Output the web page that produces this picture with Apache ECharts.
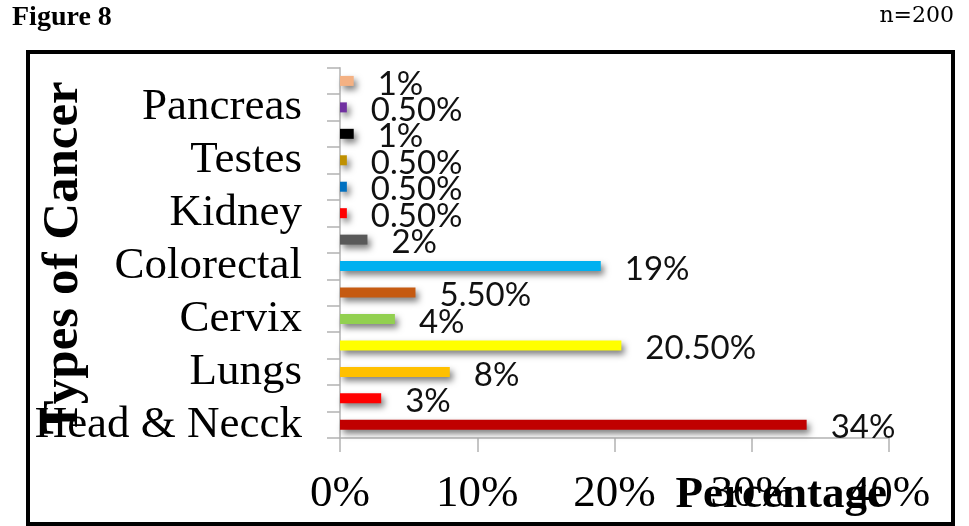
<!DOCTYPE html>
<html>
<head>
<meta charset="utf-8">
<style>
  html, body { margin: 0; padding: 0; background: #ffffff; }
  #chart { width: 969px; height: 526px; }
</style>
<script src="https://cdn.jsdelivr.net/npm/echarts@6/dist/echarts.min.js"></script>
</head>
<body>
<div id="chart"></div>
<script>
// Cancer types, bottom row first; unnamed rows carry no axis label
const categories = ['Head & Necck', '', 'Lungs', '', 'Cervix', '', 'Colorectal', '', 'Kidney', '', 'Testes', '', 'Pancreas', ''];
// Share of patients (percent), same order as categories
const percentages = [34, 3, 8, 20.5, 4, 5.5, 19, 2, 0.5, 0.5, 0.5, 1, 0.5, 1];
// One fill per bar
const barColors = ['#C00000', '#FF0000', '#FFC000', '#FFFF00', '#92D050', '#C55A11', '#00B0F0',
                   '#595959', '#FF0000', '#0070C0', '#BF9000', '#000000', '#7030A0', '#F4B183'];
// Value axis ticks
const tickValues = [0, 10, 20, 30, 40];

function pctText(v) {
  return (Number.isInteger(v) ? String(v) : v.toFixed(2)) + '%';
}

const chart = echarts.init(document.getElementById('chart'), null, { renderer: 'canvas' });

const serif = '"Liberation Serif", "Times New Roman", serif';

chart.setOption({
  animation: false,
  backgroundColor: '#ffffff',
  grid: { left: 340, right: 80, top: 67.7, bottom: 88, containLabel: false, outerBoundsMode: 'none' },
  xAxis: {
    type: 'value',
    min: tickValues[0],
    max: tickValues[tickValues.length - 1],
    interval: tickValues[1] - tickValues[0],
    splitLine: { show: false },
    axisLine: { show: true, lineStyle: { color: '#B3B3B3', width: 1.5 } },
    axisTick: { show: true, length: 14, lineStyle: { color: '#B3B3B3', width: 1.5 } },
    axisLabel: {
      formatter: '{value}%',
      fontFamily: serif,
      fontSize: 45,
      color: '#000000',
      margin: 34
    },
    name: 'Percentage',
    nameLocation: 'middle',
    nameGap: 35,
    nameMoveOverlap: false,
    nameTextStyle: {
      fontFamily: serif,
      fontWeight: 'bold',
      fontSize: 45,
      color: '#000000',
      align: 'left',
      padding: [0, 0, 0, 61]
    }
  },
  yAxis: {
    type: 'category',
    data: categories,
    axisLine: { show: true, lineStyle: { color: '#B3B3B3', width: 1.5 } },
    axisTick: { show: true, interval: 0, length: 13, lineStyle: { color: '#B3B3B3', width: 1.5 } },
    axisLabel: {
      interval: 0,
      fontFamily: serif,
      fontSize: 45,
      color: '#000000',
      margin: 38
    },
    name: 'Types of Cancer',
    nameLocation: 'middle',
    nameRotate: 90,
    nameGap: 251,
    nameMoveOverlap: false,
    nameTextStyle: {
      fontFamily: serif,
      fontWeight: 'bold',
      fontSize: 51,
      color: '#000000',
      padding: [0, 10, 0, 0]
    }
  },
  series: [{
    type: 'bar',
    barWidth: 10,
    data: percentages.map((v, i) => ({ value: v, itemStyle: { color: barColors[i] } })),
    itemStyle: {
      shadowColor: 'rgba(0,0,0,0.5)',
      shadowBlur: 6,
      shadowOffsetX: 3,
      shadowOffsetY: 4
    },
    label: {
      show: true,
      position: 'right',
      distance: 24,
      offset: [0, 3],
      formatter: p => pctText(p.value),
      fontFamily: 'Lato, "Open Sans", sans-serif',
      fontSize: 33,
      color: '#111111'
    }
  }],
  graphic: [
    {
      type: 'rect',
      shape: { x: 28, y: 52, width: 925, height: 472 },
      style: { fill: 'none', stroke: '#000000', lineWidth: 4 },
      silent: true
    },
    {
      type: 'text',
      left: 12,
      top: 4,
      style: {
        text: 'Figure 8',
        font: 'bold 28px "Liberation Serif", serif',
        fill: '#000000'
      }
    },
    {
      type: 'text',
      right: 15,
      top: 5,
      style: {
        text: 'n=200',
        font: '22px "DejaVu Serif", serif',
        fill: '#000000'
      }
    }
  ]
});
</script>
</body>
</html>
